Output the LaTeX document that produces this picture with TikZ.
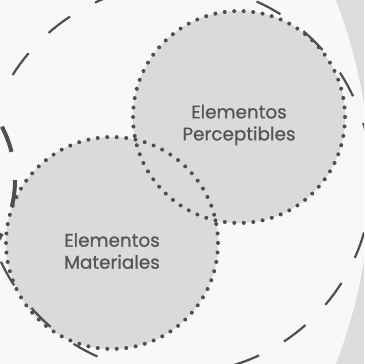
\documentclass[tikz,border=0pt]{standalone}
\usepackage{fontspec}
\setmainfont{Poppins}
\newfontfamily\labelfont{Poppins}[FakeBold=0.7]
\usetikzlibrary{positioning}
\definecolor{paper}{HTML}{F8F8F8}
\definecolor{margingray}{HTML}{DCDCDC}
\definecolor{discfill}{HTML}{DADADA}
\definecolor{ink}{HTML}{4E4E4E}
\definecolor{txt}{HTML}{555555}

\begin{document}
\begin{tikzpicture}[
  x=1pt, y=-1pt,
  every node/.style={font=\labelfont\fontsize{18.4}{22}\selectfont, text=txt},
  disc/.style={circle, fill=discfill, minimum size=212pt, inner sep=0pt},
  dots/.style={draw=ink, line width=4pt, line cap=round, dash pattern=on 0pt off 9.514pt},
  ring/.style={draw=ink, line width=2.2pt, dash pattern=on 27pt off 28.55pt},
  heavyring/.style={draw=ink, line width=4pt, dash pattern=on 27pt off 28.58pt},
  lbl/.style={align=center},
]
\useasboundingbox (0,0) rectangle (364,364);
\clip (0,0) rectangle (364,364);

% backdrop: pale field bounded by a wide arc, grey margin to the right
\fill[margingray] (0,0) rectangle (364,364);
\fill[paper] (-130,182) ++(-25:500) arc[start angle=-25, end angle=25, radius=500]
  -- (-10,400) -- (-10,-40) -- cycle;

% the two elements
\node[disc] (perc) at (239,117) {};
\node[disc] (mat) at (112,243) {};

% dashed orbits
\coordinate (hub) at (177,179);
\coordinate (lefthub) at (-100,180);
\draw[ring] (hub) ++(-131.3:194.5) arc[start angle=-131.3, delta angle=360, radius=194.5];
\draw[heavyring] (lefthub) ++(-27.6:115) arc[start angle=-27.6, delta angle=360, radius=115];

% dotted outlines on top of both fills
\draw[dots] (perc) circle[radius=106];
\draw[dots] (mat) circle[radius=106];

\node[lbl] (perclbl) at (239,125) {Elementos\\Perceptibles};
\node[lbl] (matlbl) at (112,251) {Elementos\\Materiales};
\end{tikzpicture}
\end{document}
